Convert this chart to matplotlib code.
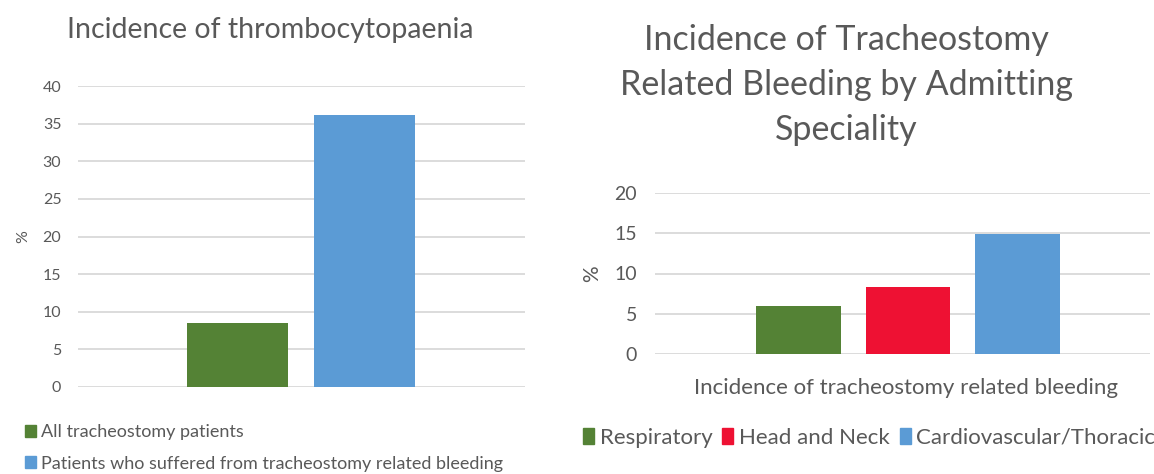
import matplotlib
matplotlib.use("Agg")
import matplotlib.pyplot as plt
from matplotlib.patches import Patch

# ---- data ----
left_title = "Incidence of thrombocytopaenia"
left_labels = ["All tracheostomy patients",
               "Patients who suffered from tracheostomy related bleeding"]
left_values = [8.5, 36.2]
left_yticks = [0, 5, 10, 15, 20, 25, 30, 35, 40]

right_title = "Incidence of Tracheostomy\nRelated Bleeding by Admitting\nSpeciality"
right_labels = ["Respiratory", "Head and Neck", "Cardiovascular/Thoracic"]
right_values = [6.0, 8.3, 14.9]
right_category = "Incidence of tracheostomy related bleeding"
right_yticks = [0, 5, 10, 15, 20]

green = "#548235"
blue = "#5B9BD5"
red = "#EE1133"
txt = "#595959"
grid = "#D9D9D9"

plt.rcParams['font.family'] = ['Lato', 'DejaVu Sans']

fig = plt.figure(figsize=(11.54, 4.74), dpi=100)
W, H = 1154, 474

def axes_px(x0, x1, ytop, ybot):
    return fig.add_axes([x0 / W, 1 - ybot / H, (x1 - x0) / W, (ybot - ytop) / H])

def style(ax, yticks, fs, pad):
    for s in ax.spines.values():
        s.set_visible(False)
    ax.set_yticks(yticks)
    ax.set_ylim(yticks[0], yticks[-1])
    ax.yaxis.grid(True, color=grid, linewidth=1.3)
    ax.set_axisbelow(True)
    ax.tick_params(axis='y', length=0, labelsize=fs, labelcolor=txt, pad=pad)
    ax.tick_params(axis='x', length=0)
    ax.set_xticks([])

# ---- left chart ----
axL = axes_px(78, 525, 86, 387)
colsL = [green, blue]
posL = [-0.5, 0.5]
axL.bar(posL, left_values, width=0.8, color=colsL)
axL.set_xlim(-1.76, 1.77)
style(axL, left_yticks, 11.5, 12)
axL.set_ylabel("%", color=txt, fontsize=11.5, labelpad=9)
fig.text(270 / W, 1 - 30 / H, left_title, ha='center', va='center',
         fontsize=20.5, color=txt)
handlesL = [Patch(color=c) for c in colsL]
fig.legend(handlesL, left_labels, loc='upper left',
           bbox_to_anchor=(18 / W, 1 - 417 / H), frameon=False,
           fontsize=13, labelcolor=txt, handlelength=0.6, handleheight=0.6,
           handletextpad=0.3, labelspacing=0.85, borderaxespad=0)

# ---- right chart ----
axR = axes_px(655, 1150, 193, 354)
colsR = [green, red, blue]
posR = [-1, 0, 1]
axR.bar(posR, right_values, width=0.77, color=colsR)
axR.set_xlim(-2.31, 2.21)
style(axR, right_yticks, 14, 13)
axR.set_ylabel("%", color=txt, fontsize=15, labelpad=9)
fig.text(906 / W, 1 - 388 / H, right_category, ha='center', va='center',
         fontsize=16, color=txt)
fig.text(846 / W, 1 - 85 / H, right_title, ha='center', va='center',
         fontsize=24.5, color=txt, linespacing=1.5)
handlesR = [Patch(color=c) for c in colsR]
fig.legend(handlesR, right_labels, loc='center left',
           bbox_to_anchor=(574 / W, 1 - 438 / H), frameon=False, ncol=3,
           fontsize=16, labelcolor=txt, handlelength=0.5, handleheight=0.7,
           handletextpad=0.25, columnspacing=0.45, borderaxespad=0)

fig.savefig("out.png", dpi=100)
